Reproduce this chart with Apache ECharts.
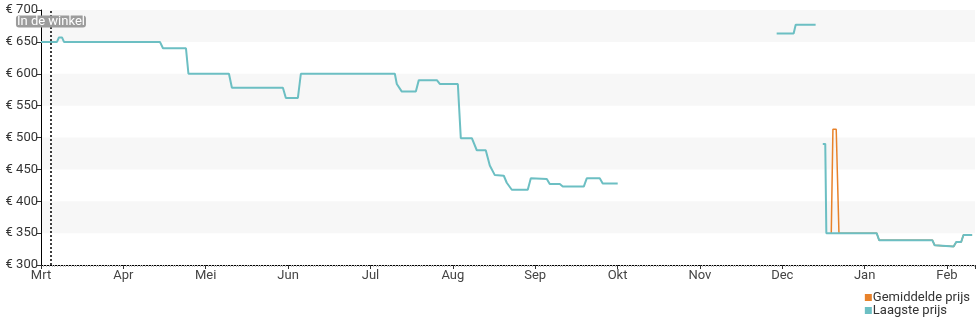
<!DOCTYPE html>
<html>
<head>
<meta charset="utf-8">
<script src="https://cdn.jsdelivr.net/npm/echarts@6/dist/echarts.min.js"></script>
<style>html,body{margin:0;padding:0;background:#fff}#c{width:980px;height:325px}</style>
</head>
<body>
<div id="c"></div>
<script>
// x positions are in months since start of Mrt (0 = Mrt, 1 = Apr, ...)
var months = ['Mrt','Apr','Mei','Jun','Jul','Aug','Sep','Okt','Nov','Dec','Jan','Feb'];
var yTicks = [300,350,400,450,500,550,600,650,700];
var storeMarkX = 0.121;
var storeLabel = 'In de winkel';

var laagstePrijs = [
  [0,650],[0.194,650],[0.218,657],[0.255,657],[0.279,650],
  [1.444,650],[1.481,640],[1.760,640],[1.790,600],
  [2.282,600],[2.318,578],[2.937,578],[2.973,562],[3.119,562],[3.155,600],
  [4.296,600],[4.320,584],[4.381,572],[4.551,572],[4.587,590],
  [4.806,590],[4.842,584],[5.061,584],[5.097,499],[5.231,499],[5.291,480],
  [5.400,480],[5.449,456],[5.510,441],[5.619,440],[5.655,429],[5.716,418],
  [5.910,418],[5.947,436],[6.141,435],[6.177,427],[6.299,427],[6.335,423],
  [6.590,423],[6.626,436],[6.784,436],[6.820,428],[7.002,428],
  null,
  [8.932,663],[9.138,663],[9.163,677],[9.405,677],
  null,
  [9.492,490],[9.522,490],[9.535,350],[10.146,350],[10.176,339],
  [10.822,339],[10.850,331],[11.080,329],[11.112,336],[11.172,336],[11.200,347],[11.305,347]
];

var gemiddeldePrijs = [
  [9.595,350],[9.615,513],[9.655,513],[9.688,350],[10.146,350],[10.176,339],
  [10.822,339],[10.850,331],[11.080,329],[11.112,336],[11.172,336],[11.200,347],[11.305,347]
];

var chart = echarts.init(document.getElementById('c'));
var font = 'Roboto, "Noto Sans", sans-serif';
chart.setOption({
  animation: false,
  textStyle: {fontFamily: font},
  grid: {left: 41, right: 5, top: 10, bottom: 60},
  legend: {
    orient: 'vertical', right: 10, top: 291, itemGap: 0, padding: 0,
    itemWidth: 7, itemHeight: 7, icon: 'rect',
    textStyle: {fontSize: 13, lineHeight: 13, color: '#333', fontFamily: font, padding: [0,0,0,-4]},
    data: ['Gemiddelde prijs','Laagste prijs']
  },
  xAxis: {
    type: 'value', min: 0, max: 11.34, interval: 1,
    axisLine: {show: true, lineStyle: {color: '#000', width: 1}},
    axisTick: {show: true, length: 4, lineStyle: {color: '#333'}},
    minorTick: {show: true, splitNumber: 30, length: 2, lineStyle: {color: '#bbb'}},
    splitLine: {show: false},
    axisLabel: {
      color: '#444', fontSize: 13, margin: 4, fontFamily: font, showMaxLabel: false,
      formatter: function (v) { return months[Math.round(v)] || ''; }
    }
  },
  yAxis: {
    type: 'value', min: yTicks[0], max: yTicks[yTicks.length-1], interval: 50,
    axisLine: {show: true, lineStyle: {color: '#000', width: 1}},
    axisTick: {show: true, length: 5, lineStyle: {color: '#333'}},
    splitLine: {show: false},
    splitArea: {show: true, areaStyle: {color: ['rgba(255,255,255,0)', '#f7f7f7']}},
    axisLabel: {
      color: '#333', fontSize: 13, margin: 3, fontFamily: font,
      formatter: function (v) { return '€ ' + v; }
    }
  },
  series: [
    {
      name: 'Gemiddelde prijs', type: 'line', data: gemiddeldePrijs,
      showSymbol: false, symbol: 'none', connectNulls: false,
      lineStyle: {color: '#e8822a', width: 1.5}, itemStyle: {color: '#e8822a'}
    },
    {
      name: 'Laagste prijs', type: 'line', data: laagstePrijs,
      showSymbol: false, symbol: 'none', connectNulls: false,
      lineStyle: {color: '#6cbfc3', width: 2}, itemStyle: {color: '#6cbfc3'},
      markLine: {
        silent: true, symbol: 'none',
        lineStyle: {color: '#000', type: [2, 2], width: 1.5},
        label: {show: false},
        data: [{xAxis: storeMarkX}]
      },
      markPoint: {
        silent: true, symbol: 'rect', symbolSize: 0,
        label: {
          show: true, position: 'inside', formatter: storeLabel,
          color: '#fff', fontSize: 13, fontFamily: font,
          backgroundColor: '#9c9c9c', borderRadius: 3, padding: [0, 1, 0, 1], lineHeight: 12
        },
        data: [{coord: [storeMarkX, 682]}]
      }
    }
  ]
});
</script>
</body>
</html>
